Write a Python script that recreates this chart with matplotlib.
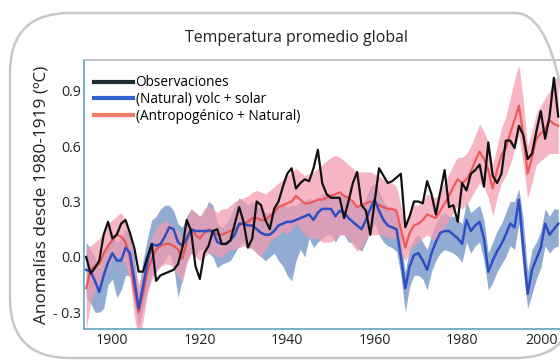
import matplotlib
matplotlib.use("Agg")
import matplotlib.pyplot as plt
from matplotlib.patches import FancyBboxPatch
import matplotlib.transforms as mtransforms
import numpy as np

years = list(range(1894, 2003))

observaciones = [
    0.00, -0.09, -0.06, -0.02, 0.12, 0.19, 0.10, 0.12, 0.18, 0.20,
    0.13, 0.05, -0.08, -0.08, 0.00, 0.07, -0.13, -0.10, -0.09, -0.08,
    -0.07, -0.04, 0.05, 0.20, 0.14, -0.05, -0.12, 0.02, 0.06, 0.14,
    0.15, 0.07, 0.07, 0.09, 0.18, 0.27, 0.19, 0.05, 0.10, 0.30,
    0.28, 0.20, 0.15, 0.26, 0.30, 0.38, 0.45, 0.48, 0.37, 0.40,
    0.42, 0.41, 0.48, 0.58, 0.40, 0.34, 0.32, 0.32, 0.32, 0.21,
    0.30, 0.40, 0.46, 0.28, 0.25, 0.12, 0.30, 0.48, 0.44, 0.40,
    0.41, 0.43, 0.45, 0.16, 0.22, 0.30, 0.30, 0.29, 0.41, 0.34,
    0.23, 0.35, 0.47, 0.27, 0.28, 0.19, 0.40, 0.36, 0.45, 0.47,
    0.50, 0.38, 0.62, 0.44, 0.40, 0.45, 0.63, 0.63, 0.59, 0.71,
    0.66, 0.53, 0.56, 0.68, 0.79, 0.64, 0.76, 0.97, 0.76,
]

natural_mean = [
    -0.07, -0.08, -0.13, -0.19, -0.10, -0.03, 0.02, -0.02, -0.02, 0.05,
    0.02, -0.12, -0.28, -0.16, -0.03, 0.07, 0.06, 0.07, 0.11, 0.16,
    0.15, 0.08, 0.06, 0.10, 0.15, 0.14, 0.14, 0.14, 0.14, 0.14,
    0.08, 0.07, 0.07, 0.09, 0.12, 0.18, 0.18, 0.17, 0.17, 0.15,
    0.13, 0.12, 0.12, 0.14, 0.17, 0.18, 0.19, 0.19, 0.20, 0.21,
    0.22, 0.23, 0.20, 0.24, 0.26, 0.26, 0.26, 0.22, 0.25, 0.24,
    0.21, 0.19, 0.17, 0.15, 0.20, 0.26, 0.31, 0.25, 0.20, 0.17,
    0.16, 0.15, 0.00, -0.17, -0.05, 0.01, 0.02, -0.02, -0.07, 0.02,
    0.08, 0.13, 0.14, 0.14, 0.12, 0.10, 0.07, 0.20, 0.14, 0.17,
    0.19, 0.10, -0.08, -0.02, 0.03, 0.07, 0.12, 0.18, 0.16, 0.31,
    0.05, -0.20, -0.07, -0.01, 0.05, 0.18, 0.12, 0.15, 0.18,
]
natural_lo = [
    -0.22, -0.25, -0.30, -0.30, -0.28, -0.15, -0.12, -0.22, -0.18, -0.10,
    -0.10, -0.25, -0.38, -0.28, -0.18, -0.10, -0.08, -0.05, -0.02, 0.02,
    -0.05, -0.22, -0.12, -0.02, 0.02, 0.00, 0.04, 0.04, 0.02, 0.00,
    -0.06, -0.04, -0.03, -0.02, 0.02, 0.06, 0.08, 0.05, 0.05, 0.02,
    0.00, -0.02, 0.00, 0.02, -0.02, -0.05, -0.10, -0.13, -0.02, 0.04,
    0.00, 0.10, 0.05, 0.08, 0.10, 0.12, 0.12, 0.08, 0.12, 0.12,
    0.08, 0.08, 0.05, 0.03, 0.08, 0.14, 0.18, 0.12, 0.08, 0.06,
    0.05, 0.03, -0.10, -0.30, -0.16, -0.10, -0.10, -0.12, -0.18, -0.08,
    -0.02, 0.02, 0.04, 0.03, 0.02, 0.00, -0.03, 0.08, 0.02, 0.06,
    0.08, -0.02, -0.18, -0.14, -0.08, -0.04, 0.00, 0.06, 0.04, 0.18,
    -0.08, -0.28, -0.20, -0.12, -0.06, 0.06, 0.02, 0.05, 0.06,
]
natural_hi = [
    0.08, 0.04, 0.00, -0.06, 0.03, 0.08, 0.12, 0.08, 0.10, 0.15,
    0.12, 0.00, -0.18, -0.02, 0.10, 0.20, 0.22, 0.26, 0.28, 0.28,
    0.25, 0.18, 0.16, 0.22, 0.26, 0.24, 0.22, 0.24, 0.30, 0.28,
    0.18, 0.16, 0.18, 0.22, 0.28, 0.32, 0.30, 0.28, 0.30, 0.28,
    0.26, 0.24, 0.24, 0.26, 0.28, 0.28, 0.27, 0.28, 0.28, 0.30,
    0.30, 0.32, 0.30, 0.32, 0.34, 0.34, 0.35, 0.33, 0.34, 0.34,
    0.30, 0.30, 0.28, 0.27, 0.32, 0.38, 0.40, 0.36, 0.30, 0.27,
    0.26, 0.25, 0.10, -0.08, 0.05, 0.10, 0.12, 0.08, 0.04, 0.12,
    0.18, 0.22, 0.24, 0.22, 0.22, 0.20, 0.18, 0.30, 0.24, 0.26,
    0.28, 0.20, 0.02, 0.08, 0.14, 0.18, 0.24, 0.30, 0.30, 0.37,
    0.20, -0.08, 0.04, 0.08, 0.14, 0.26, 0.22, 0.26, 0.26,
]

antro_mean = [
    -0.17, -0.07, -0.05, -0.04, 0.02, 0.06, 0.09, 0.12, 0.11, 0.08,
    0.00, -0.18, -0.30, -0.20, -0.08, -0.01, 0.04, 0.06, 0.07, 0.07,
    0.06, 0.04, -0.01, 0.08, 0.15, 0.12, 0.10, 0.13, 0.15, 0.14,
    0.12, 0.12, 0.13, 0.14, 0.15, 0.17, 0.18, 0.19, 0.21, 0.21,
    0.20, 0.20, 0.22, 0.24, 0.27, 0.28, 0.29, 0.30, 0.33, 0.31,
    0.29, 0.29, 0.30, 0.31, 0.31, 0.32, 0.33, 0.34, 0.35, 0.33,
    0.32, 0.30, 0.27, 0.28, 0.29, 0.30, 0.29, 0.28, 0.27, 0.26,
    0.26, 0.25, 0.15, 0.05, 0.13, 0.17, 0.18, 0.20, 0.23, 0.22,
    0.21, 0.25, 0.29, 0.33, 0.38, 0.42, 0.40, 0.42, 0.46, 0.52,
    0.57, 0.53, 0.47, 0.37, 0.47, 0.55, 0.59, 0.67, 0.74, 0.82,
    0.66, 0.45, 0.54, 0.64, 0.67, 0.69, 0.74, 0.72, 0.71,
]
antro_lo = [
    -0.40, -0.25, -0.18, -0.15, -0.10, -0.05, -0.02, 0.00, 0.00, -0.05,
    -0.12, -0.32, -0.45, -0.35, -0.20, -0.12, -0.08, -0.05, -0.04, -0.04,
    -0.06, -0.10, -0.14, -0.04, 0.02, 0.00, -0.02, 0.00, 0.02, 0.02,
    0.00, 0.00, 0.02, 0.04, 0.04, 0.05, 0.06, 0.05, 0.04, 0.02,
    0.00, 0.04, 0.08, 0.10, 0.12, 0.14, 0.12, 0.15, 0.18, 0.15,
    0.12, 0.10, 0.10, 0.10, 0.08, 0.08, 0.08, 0.10, 0.12, 0.12,
    0.10, 0.06, 0.03, 0.05, 0.10, 0.12, 0.12, 0.12, 0.12, 0.10,
    0.10, 0.10, 0.02, -0.02, 0.02, 0.06, 0.08, 0.10, 0.12, 0.10,
    0.08, 0.12, 0.16, 0.20, 0.24, 0.28, 0.26, 0.28, 0.32, 0.36,
    0.40, 0.38, 0.32, 0.22, 0.32, 0.40, 0.44, 0.50, 0.58, 0.66,
    0.50, 0.32, 0.40, 0.50, 0.52, 0.54, 0.56, 0.56, 0.56,
]
antro_hi = [
    0.05, 0.06, 0.08, 0.10, 0.14, 0.18, 0.20, 0.22, 0.24, 0.20,
    0.12, -0.05, -0.15, -0.08, 0.02, 0.10, 0.16, 0.18, 0.20, 0.18,
    0.16, 0.14, 0.10, 0.20, 0.26, 0.24, 0.22, 0.26, 0.28, 0.26,
    0.24, 0.26, 0.26, 0.28, 0.30, 0.31, 0.32, 0.33, 0.35, 0.36,
    0.35, 0.34, 0.36, 0.38, 0.40, 0.42, 0.44, 0.46, 0.48, 0.46,
    0.44, 0.45, 0.46, 0.48, 0.50, 0.52, 0.54, 0.55, 0.54, 0.52,
    0.50, 0.48, 0.46, 0.46, 0.46, 0.46, 0.45, 0.44, 0.42, 0.40,
    0.40, 0.38, 0.28, 0.16, 0.24, 0.28, 0.28, 0.30, 0.34, 0.33,
    0.32, 0.36, 0.40, 0.45, 0.50, 0.54, 0.54, 0.56, 0.60, 0.66,
    0.72, 0.68, 0.62, 0.50, 0.60, 0.70, 0.76, 0.86, 0.96, 1.04,
    0.85, 0.60, 0.68, 0.78, 0.82, 0.86, 0.90, 0.96, 0.98,
]

y_ticks = [0.9, 0.6, 0.3, 0.0, -0.3]
y_ticklabels = ["0.9", "0.6", "0.3", "0.0", "- 0.3"]
x_ticks = [1900, 1920, 1940, 1960, 1980, 2000]
x_ticklabels = ["1900", "1920", "1940", "1960", "1980", "2000"]

title = "Temperatura promedio global"
ylabel = "Anomalías desde 1980-1919 (ºC)"
labels = ["Observaciones", "(Natural) volc + solar", "(Antropogénico + Natural)"]

plt.rcParams['font.family'] = ['Open Sans', 'DejaVu Sans']

fig = plt.figure(figsize=(5.6, 3.6), dpi=100)
fig.patch.set_facecolor('white')

# rounded frame
frame = FancyBboxPatch((0.10, 0.02), 5.65, 3.45,
                       boxstyle="round,pad=0,rounding_size=0.6",
                       transform=fig.dpi_scale_trans, fill=False,
                       edgecolor='#c8c8c8', linewidth=1.8, zorder=0)
fig.patches.append(frame)

ax = fig.add_axes([0.15, 0.086, 0.85, 0.747])

yrs = np.array(years)
ax.fill_between(yrs, natural_lo, natural_hi, color='#7f9dcb', alpha=0.85,
                linewidth=0, zorder=1)
ax.fill_between(yrs, antro_lo, antro_hi, color='#f59aae', alpha=0.72,
                linewidth=0, zorder=2)
ax.plot(yrs, antro_mean, color='#ee4a45', lw=1.6, alpha=0.85, zorder=3)
ax.plot(yrs, natural_mean, color='#2e4fc4', lw=1.8, zorder=4)
ax.plot(yrs, observaciones, color='#111111', lw=1.6, zorder=5)

ax.set_xlim(1893.5, 2002.4)
ax.set_ylim(-0.391, 1.066)

ax.set_yticks(y_ticks)
ax.set_yticklabels(y_ticklabels)
ax.set_xticks(x_ticks)
ax.set_xticklabels(x_ticklabels)
ax.tick_params(axis='both', length=0, labelsize=10.2, colors='#222222')
ax.tick_params(axis='y', pad=2)
ax.tick_params(axis='x', pad=3)

# keep the last year label inside the picture, as in the reference
last = ax.get_xticklabels()[-1]
last.set_transform(last.get_transform() +
                   mtransforms.ScaledTranslation(-0.085, 0, fig.dpi_scale_trans))

for s in ['left', 'bottom']:
    ax.spines[s].set_color('#5ea3c4')
    ax.spines[s].set_linewidth(1.2)
ax.spines['top'].set_color('#b0b8bc')
ax.spines['top'].set_linewidth(1.2)
ax.spines['right'].set_visible(False)

ax.set_ylabel(ylabel, fontsize=12.4, color='#222222', labelpad=3)
fig.text(0.53, 0.895, title, ha='center', va='center', fontsize=11.4, color='#222222')

leg_handles = [
    plt.Line2D([], [], color='#1d2b33', lw=3),
    plt.Line2D([], [], color='#2e63d0', lw=3),
    plt.Line2D([], [], color='#f27a68', lw=3),
]
ax.legend(leg_handles, labels, loc='upper left', frameon=False,
          bbox_to_anchor=(0.021, 0.943),
          fontsize=9.8, handlelength=2.9, handletextpad=0.15,
          labelspacing=0.12, borderaxespad=0.0, borderpad=0.0)

fig.savefig('out.png', dpi=100)
